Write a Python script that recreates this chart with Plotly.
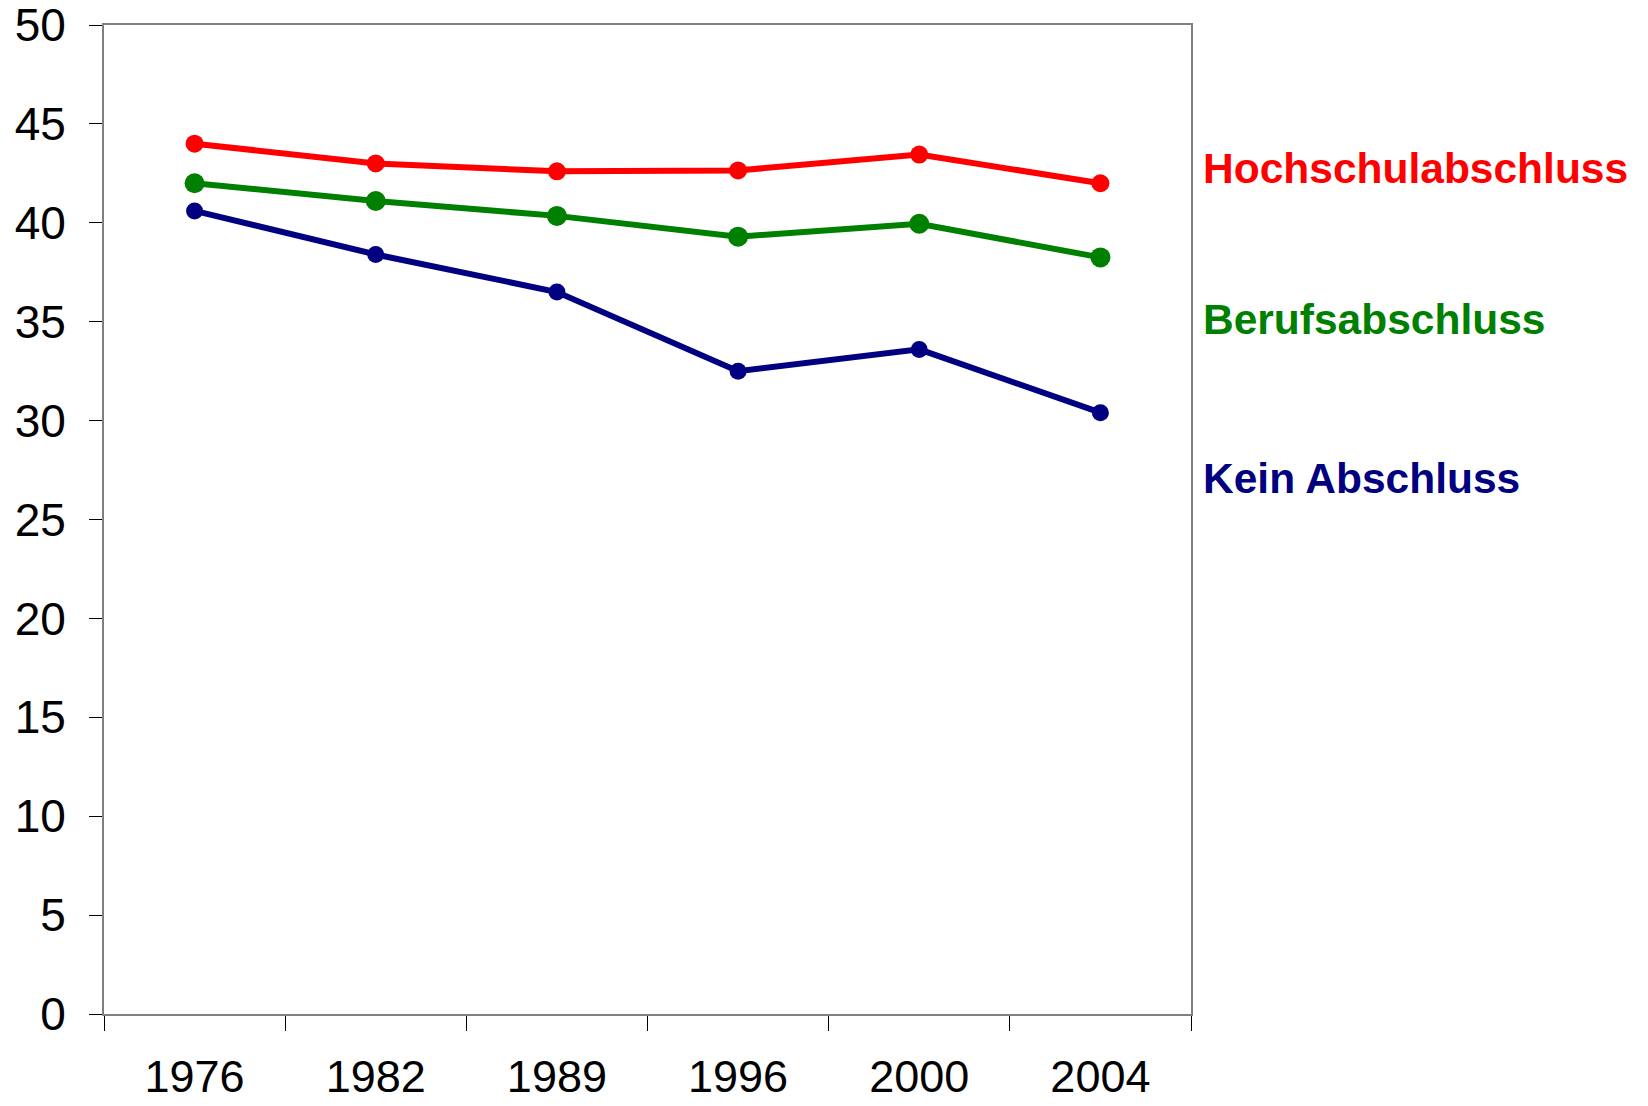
import plotly.graph_objects as go

years = ["1976", "1982", "1989", "1996", "2000", "2004"]
hochschul = [44.0, 43.0, 42.6, 42.65, 43.45, 42.0]
beruf = [42.0, 41.1, 40.35, 39.3, 39.95, 38.25]
kein = [40.6, 38.4, 36.5, 32.5, 33.6, 30.4]

series_names = ["Hochschulabschluss", "Berufsabschluss", "Kein Abschluss"]
series_values = [hochschul, beruf, kein]
colors = ["#FF0000", "#008000", "#000080"]
marker_sizes = [18, 20, 17]
label_y = [42.75, 35.1, 27.05]

y_ticks = list(range(0, 51, 5))

fig = go.Figure()
for name, vals, col, ms in zip(series_names, series_values, colors, marker_sizes):
    fig.add_trace(go.Scatter(
        x=years, y=vals, mode="lines+markers", name=name,
        line=dict(color=col, width=6),
        marker=dict(color=col, size=ms),
        showlegend=False,
    ))

for name, col, ly in zip(series_names, colors, label_y):
    fig.add_annotation(
        x=1.0, xref="paper", xshift=10, y=ly, yref="y",
        text=name, showarrow=False, xanchor="left", yanchor="middle",
        font=dict(family="Liberation Sans, Arial, sans-serif", size=42.5, color=col, weight="bold"),
    )

fig.update_layout(
    width=1648, height=1106,
    margin=dict(l=104, r=457, t=25, b=92, autoexpand=False),
    paper_bgcolor="white", plot_bgcolor="white",
    font=dict(family="Liberation Sans, Arial, sans-serif", size=46, color="black"),
)
fig.update_xaxes(
    type="category", range=[-0.5, len(years) - 0.5],
    tickson="boundaries", ticks="outside", ticklen=15, tickwidth=1,
    tickcolor="#000000", showline=True, linecolor="#808080", linewidth=2, mirror=True,
    showgrid=False, zeroline=False, ticklabelstandoff=22, ticklabeloverflow="allow",
    tickfont=dict(size=45), automargin=False,
)
fig.update_yaxes(
    range=[0, 50], tickvals=y_ticks, ticks="outside", ticklen=13, tickwidth=1,
    tickcolor="#000000", showline=True, linecolor="#808080", linewidth=2, mirror=True,
    showgrid=False, zeroline=False, ticklabelstandoff=14, ticklabeloverflow="allow",
    tickfont=dict(size=46), automargin=False,
)

fig.write_html(
    "out.html",
    config={"displayModeBar": False},
    post_script="document.body.style.margin='0px';document.body.style.overflow='hidden';",
)
